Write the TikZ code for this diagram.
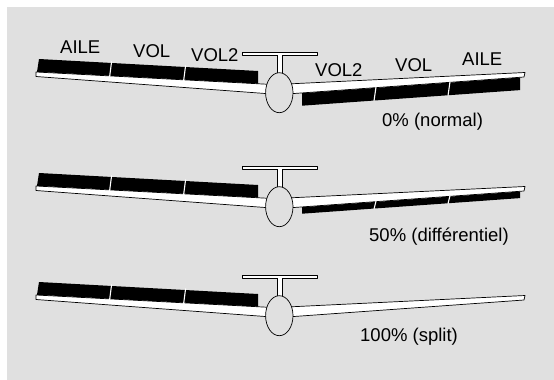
\documentclass[tikz,border=0pt]{standalone}
\usepackage{fontspec}
\setmainfont{Liberation Sans}
\usetikzlibrary{calc}

\definecolor{fond}{RGB}{224,224,224}

\tikzset{
  aile/.style={draw=black, fill=white, line width=0.7pt, line join=round},
  volet/.style={fill=black},
  coupe/.style={white, line width=1.1pt},
  fuselage/.style={draw=black, fill=fond, line width=0.7pt},
  legende/.style={anchor=base west, inner sep=0pt, font=\fontsize{18.5}{20}\selectfont},
}

% glider seen from behind: wings, tail, fuselage and the raised left flaps
\newcommand{\planeur}[1]{%
  \begin{scope}[shift={(0,#1)}]
    \draw[aile] (36,72) -- (272,84.5) -- (272,94) -- (36,76.5) -- cycle;
    \draw[aile] (287,94) -- (524,77) -- (525,72.5) -- (287,84) -- cycle;
    \fill[volet] (39,59) -- (258,71) -- (258,83.6) -- (37,71.8) -- cycle;
    \draw[coupe] (111.6,61.5) -- (109.6,77);
    \draw[coupe] (185.6,65.5) -- (183.6,81);
    \draw[aile] (277.3,54) rectangle (282.3,73);
    \draw[aile] (242,52) rectangle (317,55.5);
    \fill[white] (277.7,55) rectangle (281.9,56);
    \draw[fuselage] (279.3,92.7) ellipse [x radius=13.7pt, y radius=20pt];
  \end{scope}}

% lowered right flaps, #2 = how far they go down
\newcommand{\voletsdroits}[2]{%
  \begin{scope}[shift={(0,#1)}]
    \fill[volet] (302,93.2) -- (520,77.6) -- (520,77.6+#2) -- (302,93.2+#2) -- cycle;
    \draw[coupe] (376,87) -- (374,88.5+#2);
    \draw[coupe] (450,81.7) -- (448,83.2+#2);
  \end{scope}}

\begin{document}
\begin{tikzpicture}[x=1pt, y=-1pt]
  \useasboundingbox (0,0) rectangle (554,380);
  \fill[fond] (7,7) rectangle (554,380);

  % normal
  \planeur{0}
  \voletsdroits{0}{12.5}
  \node[legende] (aileg) at (60,53) {AILE};
  \node[legende] (volg) at (133,57) {VOL};
  \node[legende] (vol2g) at (191,61) {VOL2};
  \node[legende] (vol2d) at (315,76) {VOL2};
  \node[legende] (vold) at (395,71) {VOL};
  \node[legende] (ailed) at (462,65) {AILE};
  \node[legende] (normal) at (382,126.5) {0\% (normal)};

  % differentiel
  \planeur{114}
  \voletsdroits{114}{6.5}
  \node[legende] (diff) at (369,241) {50\% (différentiel)};

  % split
  \planeur{223}
  \node[legende] (split) at (360,341.5) {100\% (split)};
\end{tikzpicture}
\end{document}
